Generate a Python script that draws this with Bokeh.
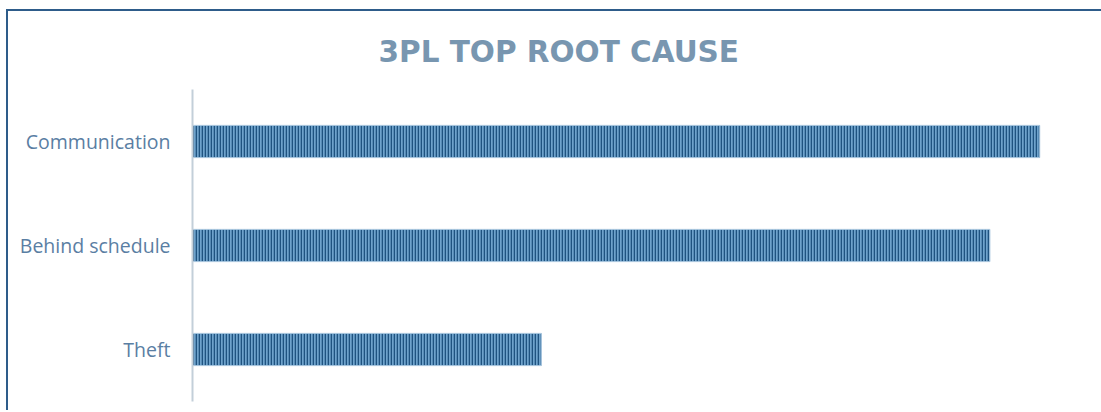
from bokeh.plotting import figure
from bokeh.models import FactorRange, Range1d, Title
from bokeh.embed import file_html
from bokeh.resources import INLINE

# Root-cause counts for 3PL incidents
causes = ["Communication", "Behind schedule", "Theft"]
counts = [17, 16, 7]

title_text = "3PL TOP ROOT CAUSE"

p = figure(
    width=1097, height=401,
    y_range=FactorRange(factors=causes[::-1], range_padding=0),
    x_range=Range1d(0, 18.32),
    output_backend="svg", toolbar_location=None,
    x_axis_location=None,
    min_border_left=184, min_border_right=0,
    min_border_top=78, min_border_bottom=11,
    background_fill_color="white", border_fill_color="white",
    outline_line_color=None,
)

# striped bars
p.hbar(
    y=causes, right=counts, left=0, height=0.31,
    fill_color="#6fa3cc", line_color="#a9c6de", line_width=1,
    hatch_pattern="vertical_line", hatch_color="#1f5380",
    hatch_scale=3, hatch_weight=1.6,
)

ax = p.yaxis[0]
ax.axis_line_color = "#c3cfd9"
ax.axis_line_width = 2
ax.major_tick_line_color = None
ax.minor_tick_line_color = None
ax.major_label_standoff = 16
ax.major_label_text_font = "Open Sans"
ax.major_label_text_font_size = "19.5px"
ax.major_label_text_color = "#5a7ea3"

p.xgrid.visible = False
p.ygrid.visible = False

# chart title
t = Title(text=title_text, align="left", offset=186, standoff=42,
          text_font="DejaVu Sans", text_font_size="29.5px",
          text_font_style="bold", text_color="#7896b0")
p.add_layout(t, "above")

# outer chart frame (left and top edges)
p.styles = {
    "border-left": "2px solid #2e5c8a",
    "border-top": "2px solid #2e5c8a",
    "margin-left": "6px",
    "margin-top": "9px",
}

open("out.html", "w").write(file_html(p, INLINE))
